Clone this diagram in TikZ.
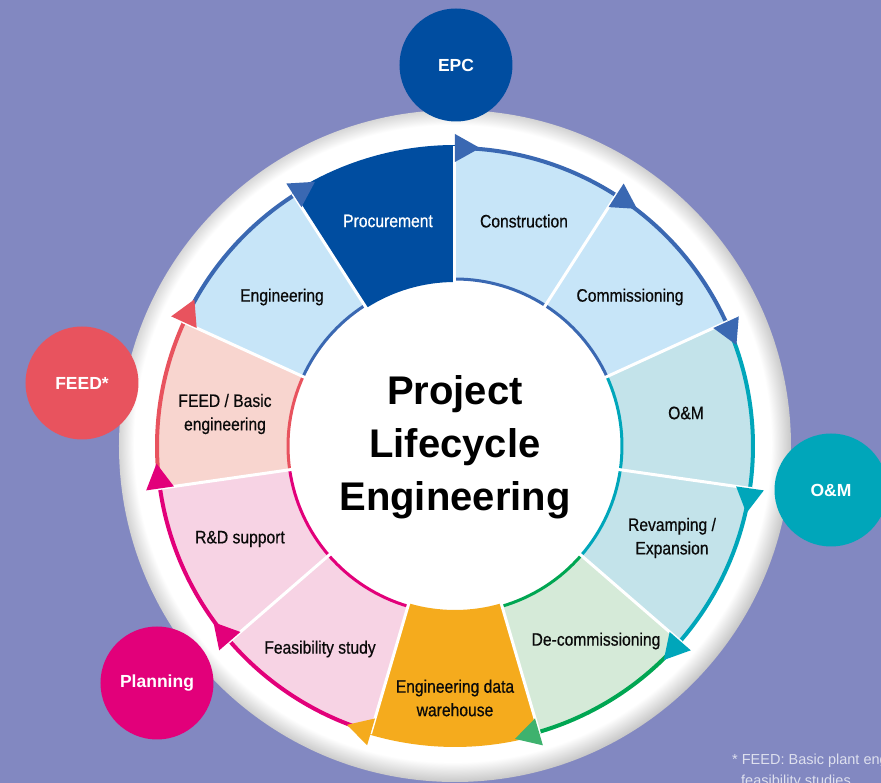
\documentclass[tikz,border=0pt]{standalone}
\usepackage{fontspec}
\setmainfont{Liberation Sans}
\newfontfamily\condfont[FakeStretch=0.87,FakeBold=0.6]{Liberation Sans}
\definecolor{bgcol}{RGB}{130,136,193}
\definecolor{epcdark}{RGB}{0,77,160}
\definecolor{epcl}{RGB}{58,104,178}
\definecolor{lblue}{RGB}{199,229,248}
\definecolor{lteal}{RGB}{195,227,234}
\definecolor{tealc}{RGB}{0,166,186}
\definecolor{lgreen}{RGB}{213,234,216}
\definecolor{greenc}{RGB}{0,166,82}
\definecolor{greenarr}{RGB}{62,178,110}
\definecolor{orangec}{RGB}{245,171,29}
\definecolor{lpink}{RGB}{247,211,228}
\definecolor{magc}{RGB}{226,0,122}
\definecolor{lsalmon}{RGB}{248,213,207}
\definecolor{redc}{RGB}{232,83,94}
\definecolor{footc}{RGB}{222,224,238}
\definecolor{txt}{RGB}{10,10,10}
\pgfdeclareradialshading{discshade}{\pgfpoint{-0.35bp}{0.35bp}}{color(0bp)=(white); color(23.7bp)=(white); color(25.2bp)=(black!22); color(50bp)=(black!22)}
\tikzset{
  seglabel/.style={font=\condfont\fontsize{18}{23.5}\selectfont, text=txt, align=center},
  phase/.style={circle, minimum size=113pt, inner sep=0pt, text=white, font=\bfseries\fontsize{17.5}{20}\selectfont},
  divider/.style={white, line width=3pt},
}
\begin{document}
\begin{tikzpicture}[x=1pt,y=1pt]
\useasboundingbox (-455,-337) rectangle (426,446);
\clip (-455,-337) rectangle (426,446);
\fill[bgcol] (-455,-337) rectangle (426,446);
% white disc with soft rim shading
\shade[shading=discshade] (0,0) circle[radius=336];
% ring segments: index / fill / line colour
\foreach \k/\fc/\lc in {0/lblue/epcl, 1/lblue/epcl, 2/lteal/tealc, 3/lteal/tealc, 4/lgreen/greenc, 6/lpink/magc, 7/lpink/magc, 8/lsalmon/redc, 9/lblue/epcl}{
  \pgfmathsetmacro\a{90-32.7273*\k}
  \pgfmathsetmacro\b{\a-32.7273}
  \fill[\fc] (\a:167) arc[start angle=\a, end angle=\b, radius=167] -- (\b:298) arc[start angle=\b, end angle=\a, radius=298] -- cycle;
  \draw[\lc, line width=4pt] (\a:298) arc[start angle=\a, end angle=\b, radius=298];
  \draw[\lc, line width=3pt] (\a:167) arc[start angle=\a, end angle=\b, radius=167];
}
% highlighted segments (Engineering data warehouse, Procurement)
\foreach \k/\fc in {5/orangec, 10/epcdark}{
  \pgfmathsetmacro\a{90-32.7273*\k}
  \pgfmathsetmacro\b{\a-32.7273}
  \fill[\fc] (\a:164) arc[start angle=\a, end angle=\b, radius=164] -- (\b:301) arc[start angle=\b, end angle=\a, radius=301] -- cycle;
}
% white dividers
\foreach \k in {0,...,10}{
  \pgfmathsetmacro\a{90-32.7273*\k}
  \draw[divider] (\a:163) -- (\a:300);
}
% arrowheads at the end of each segment
\foreach \k/\ac in {0/epcl, 1/epcl, 2/tealc, 3/tealc, 4/greenarr, 5/orangec, 6/magc, 7/magc, 8/redc, 9/epcl, 10/epcl}{
  \pgfmathsetmacro\b{90-32.7273*(\k+1)}
  \pgfmathsetmacro\c{\b-4.8}
  \fill[\ac] (\b:284) -- (\b:312) -- (\c:299) -- cycle;
}
% segment labels
\node[seglabel, text=white] (procurement) at (-67,225) {Procurement};
\node[seglabel] (construction) at (69,225) {Construction};
\node[seglabel] (engineering) at (-173,149) {Engineering};
\node[seglabel] (commissioning) at (175,149) {Commissioning};
\node[seglabel] (feed) at (-230,32) {FEED / Basic\\engineering};
\node[seglabel] (om) at (231,33) {O\&M};
\node[seglabel] (rd) at (-215,-93) {R\&D support};
\node[seglabel] (revamp) at (217,-92) {Revamping /\\Expansion};
\node[seglabel] (feas) at (-135,-203) {Feasibility study};
\node[seglabel] (decom) at (141,-195) {De-commissioning};
\node[seglabel] (edw) at (0,-252) {Engineering data\\warehouse};
% centre title
\node[align=center, text=black, font=\bfseries\fontsize{40}{53}\selectfont] (title) at (0,-1) {Project\\Lifecycle\\Engineering};
% phase circles
\node[phase, fill=epcdark] (epc) at (1,381) {EPC};
\node[phase, fill=redc] (feedc) at (-373,63) {FEED*};
\node[phase, fill=tealc] (omc) at (376,-44) {O\&M};
\node[phase, fill=magc] (plan) at (-298,-237) {Planning};
% footnote (cut by the picture's edge, as in the reference)
\node[anchor=base west, inner sep=0pt, text=footc, font=\fontsize{14.5}{17}\selectfont] (foot1) at (277,-319) {* FEED: Basic plant engineering};
\node[anchor=base west, inner sep=0pt, text=footc, font=\fontsize{14.5}{17}\selectfont] (foot2) at (286,-340) {feasibility studies};
\end{tikzpicture}
\end{document}
